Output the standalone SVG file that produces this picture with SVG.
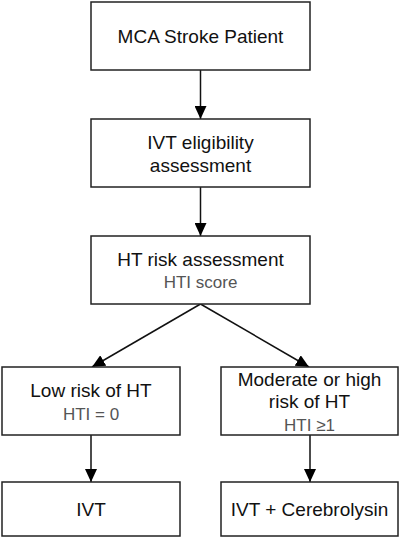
<svg xmlns="http://www.w3.org/2000/svg" width="401" height="539" viewBox="0 0 401 539">
<style>
.box{fill:#fff;stroke:#222;stroke-width:1.5}
.t{font-family:"Liberation Sans",Arial,sans-serif;font-size:19px;fill:#111;text-anchor:middle}
.s{font-family:"Liberation Sans",Arial,sans-serif;font-size:17px;fill:#555;text-anchor:middle}
.c{stroke:#111;stroke-width:1.5;fill:none;marker-end:url(#ah)}
</style>
<defs>
<marker id="ah" markerUnits="userSpaceOnUse" markerWidth="13" markerHeight="12" refX="13" refY="6" orient="auto">
<path d="M0,0 L13,6 L0,12 z" fill="#000"/>
</marker>
</defs>
<rect width="401" height="539" fill="#fff"/>
<g id="connectors">
<line class="c" x1="200.5" y1="70" x2="200.5" y2="119"/>
<line class="c" x1="200.5" y1="187" x2="200.5" y2="236"/>
<line class="c" x1="200.5" y1="304" x2="92" y2="367"/>
<line class="c" x1="200.5" y1="304" x2="309" y2="367"/>
<line class="c" x1="91" y1="435" x2="91" y2="482"/>
<line class="c" x1="310" y1="435" x2="310" y2="482"/>
</g>
<g id="n1">
<rect class="box" x="91" y="2" width="219" height="68"/>
<text class="t" x="200.5" y="43">MCA Stroke Patient</text>
</g>
<g id="n2">
<rect class="box" x="91" y="119" width="219" height="68"/>
<text class="t" x="200.5" y="149">IVT eligibility</text>
<text class="t" x="200.5" y="172">assessment</text>
</g>
<g id="n3">
<rect class="box" x="91" y="236" width="219" height="68"/>
<text class="t" x="200.5" y="266">HT risk assessment</text>
<text class="s" x="200.5" y="288">HTI score</text>
</g>
<g id="n4">
<rect class="box" x="2" y="367" width="178" height="68"/>
<text class="t" x="91" y="397">Low risk of HT</text>
<text class="s" x="91" y="420">HTI = 0</text>
</g>
<g id="n5">
<rect class="box" x="221" y="367" width="177" height="68"/>
<text class="t" x="309.5" y="386">Moderate or high</text>
<text class="t" x="309.5" y="408">risk of HT</text>
<text class="s" x="309.5" y="431">HTI ≥1</text>
</g>
<g id="n6">
<rect class="box" x="2" y="482" width="178" height="54"/>
<text class="t" x="91" y="516">IVT</text>
</g>
<g id="n7">
<rect class="box" x="221" y="482" width="177" height="54"/>
<text class="t" x="309.5" y="516">IVT + Cerebrolysin</text>
</g>
</svg>
